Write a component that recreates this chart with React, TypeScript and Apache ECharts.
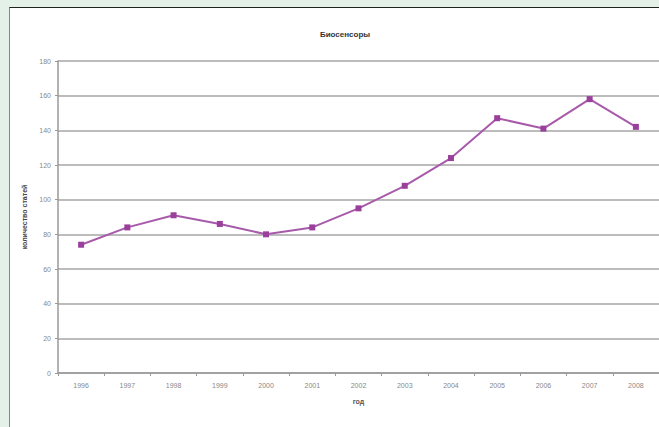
import React, { useEffect, useRef } from "react";
import * as echarts from "echarts";

// Number of publications on biosensors per year
const years = ["1996", "1997", "1998", "1999", "2000", "2001", "2002", "2003", "2004", "2005", "2006", "2007", "2008"];
const articles = [74, 84, 91, 86, 80, 84, 95, 108, 124, 147, 141, 158, 142];

const chartTitle = "Биосенсоры";
const yAxisName = "количество статей";
const xAxisName = "год";

const FONT = "'Liberation Sans', Arial, sans-serif";

export default function App() {
  const ref = useRef<HTMLDivElement>(null);

  useEffect(() => {
    if (!ref.current) return;
    const chart = echarts.init(ref.current, undefined, { renderer: "svg" });
    chart.setOption({
      animation: false,
      title: {
        text: chartTitle,
        left: 340,
        top: 25,
        textAlign: "center",
        textStyle: { fontFamily: FONT, fontSize: 8, fontWeight: "bold", color: "#333" },
      },
      grid: { left: 58, right: -2, top: 61, bottom: 54 },
      xAxis: {
        type: "category",
        data: years,
        boundaryGap: true,
        name: xAxisName,
        nameLocation: "middle",
        nameGap: 25,
        nameTextStyle: { fontFamily: FONT, fontSize: 7, fontWeight: "bold", color: "#555" },
        axisLine: { lineStyle: { color: "#999", width: 1.5 } },
        axisTick: { show: true, length: 3, inside: false, lineStyle: { color: "#999" } },
        axisLabel: { fontFamily: FONT, fontSize: 7, color: "#888", margin: 9 },
        splitLine: { show: false },
      },
      yAxis: {
        type: "value",
        min: 0,
        max: 180,
        interval: 20,
        name: yAxisName,
        nameLocation: "middle",
        nameGap: 30,
        nameRotate: 90,
        nameTextStyle: { fontFamily: FONT, fontSize: 7, fontWeight: "bold", color: "#444" },
        axisLine: { show: true, lineStyle: { color: "#999", width: 1.5 } },
        axisTick: { show: true, length: 3, lineStyle: { color: "#999" } },
        axisLabel: { fontFamily: FONT, fontSize: 7, color: "#888", margin: 7 },
        splitLine: { show: true, lineStyle: { color: "#a6a6a6", width: 1.5 } },
      },
      series: [
        {
          type: "line",
          data: articles,
          symbol: "rect",
          symbolSize: 6,
          lineStyle: { color: "#a85aaa", width: 2 },
          itemStyle: { color: "#9a3f9c" },
        },
      ],
    });
    return () => chart.dispose();
  }, []);

  return (
    <div
      style={{
        position: "fixed",
        left: 0,
        top: 0,
        width: 659,
        height: 427,
        background: "#e4f1e8",
        overflow: "hidden",
      }}
    >
      <div
        style={{
          position: "absolute",
          left: 9,
          top: 7,
          width: 700,
          height: 500,
          background: "#fff",
          borderTop: "1.5px solid #222",
          borderLeft: "1.5px solid #888",
        }}
      />
      <div ref={ref} style={{ position: "absolute", left: 0, top: 0, width: 659, height: 427 }} />
    </div>
  );
}
